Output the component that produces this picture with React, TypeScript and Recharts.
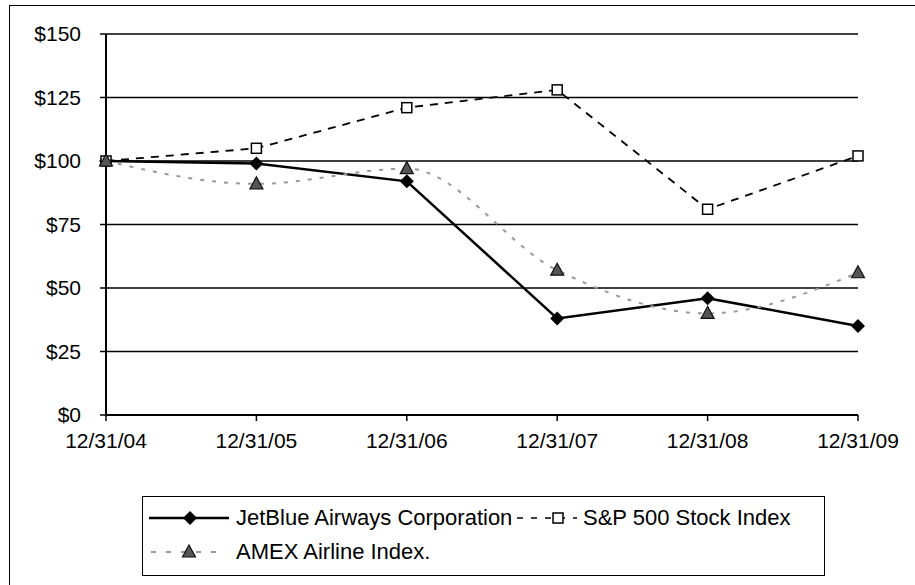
import { LineChart, Line, XAxis, YAxis, CartesianGrid, Legend } from 'recharts'

const dates = ['12/31/04', '12/31/05', '12/31/06', '12/31/07', '12/31/08', '12/31/09']
const jetBlue = [100, 99, 92, 38, 46, 35]
const sp500 = [100, 105, 121, 128, 81, 102]
const amexAirline = [100, 91, 97, 57, 40, 56]
const yTicks = [0, 25, 50, 75, 100, 125, 150]

const FONT = '"Liberation Sans", Arial, sans-serif'

const data = dates.map((date, i) => ({
  date,
  jetBlue: jetBlue[i],
  sp500: sp500[i],
  amex: amexAirline[i],
}))

// markers, drawn like the excel ones
const Diamond = ({ cx, cy, index }: any) => (
  <polygon
    key={`jb-${index}`}
    points={`${cx},${cy - 7} ${cx + 7},${cy} ${cx},${cy + 7} ${cx - 7},${cy}`}
    fill="#000"
  />
)

const Square = ({ cx, cy, index }: any) => (
  <rect key={`sp-${index}`} x={cx - 5} y={cy - 5} width={10} height={10} fill="#fff" stroke="#000" strokeWidth={1.5} />
)

const Triangle = ({ cx, cy, index }: any) => (
  <polygon
    key={`am-${index}`}
    points={`${cx},${cy - 7} ${cx + 6.5},${cy + 5} ${cx - 6.5},${cy + 5}`}
    fill="#555"
    stroke="#111"
    strokeWidth={1.2}
  />
)

function LegendBox() {
  const text = { position: 'absolute' as const, fontSize: 22, fontFamily: FONT, color: '#000', lineHeight: '24px' }
  return (
    <div style={{ position: 'relative', width: 683, height: 80, border: '1.5px solid #000', boxSizing: 'border-box', background: '#fff' }}>
      <svg width={683} height={80} style={{ position: 'absolute', left: 0, top: 0 }}>
        {/* JetBlue */}
        <line x1={6} y1={21} x2={86} y2={21} stroke="#000" strokeWidth={2.5} />
        <polygon points="47,14 54,21 47,28 40,21" fill="#000" />
        {/* S&P */}
        <line x1={374} y1={21} x2={434} y2={21} stroke="#000" strokeWidth={1.5} strokeDasharray="6 8" />
        <rect x={410} y={16} width={10} height={10} fill="#fff" stroke="#000" strokeWidth={1.5} />
        {/* AMEX */}
        <line x1={8} y1={55} x2={80} y2={55} stroke="#999" strokeWidth={2} strokeDasharray="5 10" />
        <polygon points="46,48 52.5,60 39.5,60" fill="#555" stroke="#111" strokeWidth={1.2} />
      </svg>
      <span style={{ ...text, left: 93, top: 9 }}>JetBlue Airways Corporation</span>
      <span style={{ ...text, left: 440, top: 9 }}>S&amp;P 500 Stock Index</span>
      <span style={{ ...text, left: 93, top: 43 }}>AMEX Airline Index.</span>
    </div>
  )
}

export default function App() {
  return (
    <div style={{ position: 'absolute', left: 0, top: 0, width: 915, height: 585, overflow: 'hidden', background: '#fff' }}>
      <div style={{ position: 'absolute', left: 9, top: 5, width: 920, height: 600, borderTop: '1.5px solid #000', borderLeft: '1.5px solid #000' }} />
      <LineChart
        width={915}
        height={585}
        data={data}
        margin={{ top: 34, right: 57, bottom: 130, left: 10 }}
        style={{ position: 'absolute', left: 0, top: 0 }}
      >
        <CartesianGrid vertical={false} stroke="#000" strokeWidth={1.5} />
        <XAxis
          dataKey="date"
          padding={{ left: 0, right: 0 }}
          height={40}
          tickSize={6}
          tickMargin={12}
          tick={{ fontSize: 21, fontFamily: FONT, fill: '#000' }}
          axisLine={{ stroke: '#000', strokeWidth: 2 }}
          tickLine={{ stroke: '#000', strokeWidth: 1.5 }}
          interval={0}
        />
        <YAxis
          domain={[0, 150]}
          ticks={yTicks}
          width={96}
          tickSize={6}
          tickMargin={19}
          tickFormatter={(v) => `$${v}`}
          tick={{ fontSize: 21, fontFamily: FONT, fill: '#000' }}
          axisLine={{ stroke: '#000', strokeWidth: 2 }}
          tickLine={{ stroke: '#000', strokeWidth: 1.5 }}
        />
        <YAxis
          yAxisId="right"
          orientation="right"
          domain={[0, 150]}
          ticks={yTicks}
          width={0}
          tick={false}
          tickLine={false}
          axisLine={{ stroke: '#000', strokeWidth: 2 }}
        />
        <Legend
          layout="vertical"
          align="center"
          verticalAlign="middle"
          wrapperStyle={{ position: 'absolute', left: 142, top: 496, width: 683, height: 80 }}
          content={() => <LegendBox />}
        />
        <Line
          dataKey="jetBlue"
          name="JetBlue Airways Corporation"
          type="linear"
          stroke="#000"
          strokeWidth={2.5}
          dot={(p: any) => <Diamond {...p} />}
          activeDot={false}
          isAnimationActive={false}
        />
        <Line
          dataKey="sp500"
          name="S&P 500 Stock Index"
          type="linear"
          stroke="#000"
          strokeWidth={1.8}
          strokeDasharray="8 7"
          dot={(p: any) => <Square {...p} />}
          activeDot={false}
          isAnimationActive={false}
        />
        <Line
          dataKey="amex"
          name="AMEX Airline Index."
          type="monotone"
          stroke="#999"
          strokeWidth={2}
          strokeDasharray="4 8"
          dot={(p: any) => <Triangle {...p} />}
          activeDot={false}
          isAnimationActive={false}
        />
      </LineChart>
    </div>
  )
}
